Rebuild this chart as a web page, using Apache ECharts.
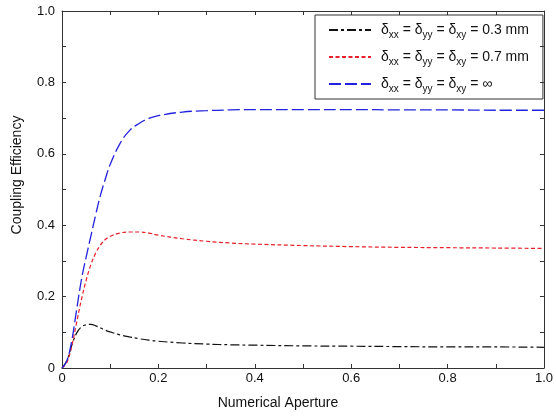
<!DOCTYPE html>
<html>
<head>
<meta charset="utf-8">
<script src="https://cdn.jsdelivr.net/npm/echarts@6/dist/echarts.min.js"></script>
<style>
  html, body { margin: 0; padding: 0; background: #fff; }
  #chart { width: 556px; height: 417px; }
</style>
</head>
<body>
<div id="chart"></div>
<script>
// numerical aperture samples
const NA = [0, 0.01, 0.02, 0.03, 0.04, 0.05, 0.06, 0.07, 0.08, 0.09, 0.1, 0.12, 0.14, 0.16, 0.18, 0.2, 0.25, 0.3, 0.35, 0.4, 0.5, 0.6, 0.7, 0.8, 0.9, 1.0];
// coupling efficiency per case
const eff03 = [0, 0.02, 0.062, 0.097, 0.115, 0.121, 0.122, 0.118, 0.112, 0.106, 0.101, 0.093, 0.087, 0.082, 0.078, 0.075, 0.07, 0.067, 0.065, 0.064, 0.062, 0.061, 0.06, 0.059, 0.059, 0.058];
const eff07 = [0, 0.015, 0.06, 0.125, 0.19, 0.245, 0.29, 0.322, 0.345, 0.36, 0.369, 0.378, 0.381, 0.381, 0.378, 0.372, 0.362, 0.355, 0.35, 0.347, 0.343, 0.34, 0.338, 0.337, 0.336, 0.335];
const effInf = [0, 0.02, 0.075, 0.16, 0.245, 0.31, 0.37, 0.43, 0.485, 0.53, 0.57, 0.628, 0.665, 0.685, 0.699, 0.707, 0.717, 0.721, 0.723, 0.724, 0.724, 0.724, 0.723, 0.723, 0.722, 0.722];
const names = ['0.3 mm', '0.7 mm', 'inf'];
const legendText = {
  '0.3 mm': '{d|δ}{s|xx}{t| = }{d|δ}{s|yy}{t| = }{d|δ}{s|xy}{t| = 0.3 mm}',
  '0.7 mm': '{d|δ}{s|xx}{t| = }{d|δ}{s|yy}{t| = }{d|δ}{s|xy}{t| = 0.7 mm}',
  'inf': '{d|δ}{s|xx}{t| = }{d|δ}{s|yy}{t| = }{d|δ}{s|xy}{t| = ∞}'
};

function pairs(ys) {
  return NA.map((x, i) => [x, ys[i]]);
}
function fmt(v) {
  if (v === 0) return '0';
  return v.toFixed(1);
}

const FONT = 'Liberation Sans';
const axisCol = '#333';

function frameAxis(extra) {
  return Object.assign({
    type: 'value', min: 0, max: 1, interval: 0.2,
    axisLine: { show: true, onZero: false, lineStyle: { color: axisCol, width: 1 } },
    axisTick: { show: true, inside: true, length: 4, lineStyle: { color: axisCol } },
    minorTick: { show: true, splitNumber: 2, length: 4, lineStyle: { color: axisCol } },
    splitLine: { show: false }
  }, extra);
}

const chart = echarts.init(document.getElementById('chart'));
const option = {
  backgroundColor: '#fff',
  animation: false,
  textStyle: { fontFamily: FONT },
  grid: { left: 62, right: 9, top: 11, bottom: 49 },
  legend: {
    orient: 'vertical',
    left: 315,
    top: 15,
    padding: [8, 14, 5, 13],
    borderColor: '#333',
    borderWidth: 1,
    itemWidth: 42,
    itemHeight: 14,
    itemGap: 10,
    data: names,
    itemStyle: { opacity: 0 },
    formatter: function (n) { return legendText[n]; },
    textStyle: {
      padding: [0, 0, 0, 5],
      rich: {
        d: { fontSize: 14, fontFamily: FONT, color: '#111', lineHeight: 20 },
        t: { fontSize: 14, fontFamily: FONT, color: '#111', lineHeight: 20 },
        s: { fontSize: 10, fontFamily: FONT, color: '#111', lineHeight: 9, verticalAlign: 'bottom' }
      }
    }
  },
  xAxis: [
    frameAxis({ axisLabel: { margin: 4, fontSize: 13, color: '#111', fontFamily: FONT, formatter: fmt } }),
    frameAxis({ position: 'top', axisLabel: { show: false } })
  ],
  yAxis: [
    frameAxis({ axisLabel: { margin: 7, fontSize: 13, color: '#111', fontFamily: FONT, formatter: fmt } }),
    frameAxis({ position: 'right', axisLabel: { show: false } })
  ],
  graphic: [{
    type: 'text', left: 'center', top: 396,
    style: { text: 'Numerical Aperture', fontSize: 14, fontFamily: FONT, fill: '#111' }
  }, {
    type: 'text', x: 17, y: 175, rotation: Math.PI / 2,
    style: { text: 'Coupling Efficiency', fontSize: 14, fontFamily: FONT, fill: '#111', align: 'center', verticalAlign: 'middle' }
  }],
  series: [{
    name: names[0], type: 'line', smooth: 0.4, symbol: 'none',
    data: pairs(eff03),
    lineStyle: { color: '#111', width: 1.2, type: [9, 3, 3, 3] },
    itemStyle: { color: '#111' }
  }, {
    name: names[1], type: 'line', smooth: 0.4, symbol: 'none',
    data: pairs(eff07),
    lineStyle: { color: '#e8202a', width: 1.2, type: [4, 2.5] },
    itemStyle: { color: '#e8202a' }
  }, {
    name: names[2], type: 'line', smooth: 0.4, symbol: 'none',
    data: pairs(effInf),
    lineStyle: { color: '#2222dd', width: 1.3, type: [12, 4] },
    itemStyle: { color: '#2222dd' }
  }]
};
chart.setOption(option);
</script>
</body>
</html>
